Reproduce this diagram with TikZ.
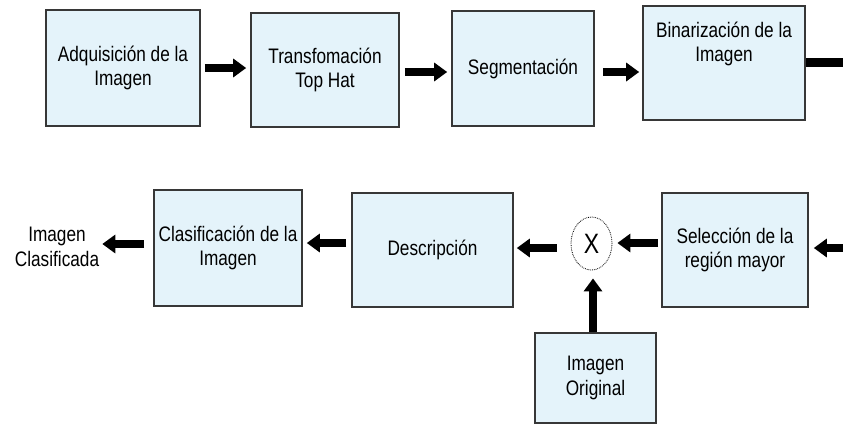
\documentclass[tikz,border=0pt]{standalone}
\usepackage{fontspec}
\setmainfont[FakeStretch=0.82]{Liberation Sans}
\usetikzlibrary{arrows.meta,shapes.geometric}
\definecolor{boxfill}{RGB}{228,243,250}
\definecolor{boxline}{RGB}{55,55,55}

\begin{document}
\begin{tikzpicture}[x=1pt, y=-1pt,
    blockbox/.style={draw=boxline, line width=1.6pt, fill=boxfill, align=center,
      inner sep=2pt, font=\fontsize{21}{24.5}\selectfont},
    boxtext/.style={align=center, inner sep=3pt, font=\fontsize{21}{24.5}\selectfont},
    flow/.style={line width=8pt, -{Triangle[width=18pt,length=13pt]}}]
    \useasboundingbox (0,0) rectangle (843,424);
    \def\ya{68}; \def\yb{72}; \def\yc{62}; \def\yd{248}; \def\ye{243};

    % first row
    \node[blockbox, minimum width=154pt, minimum height=116pt] (adq) at (123,68) {Adquisición de la\\Imagen};
    \node[blockbox, minimum width=148pt, minimum height=114pt] (top) at (325,70) {Transfomación\\Top Hat};
    \node[blockbox, minimum width=142pt, minimum height=115pt] (seg) at (523,68.5) {Segmentación};
    \node[blockbox, minimum width=162pt, minimum height=114pt] (bin) at (724,63) {};
    \node[boxtext] (binlbl) at ([yshift=19pt]bin.center) {Binarización de la\\Imagen};

    % second row
    \node[boxtext] (outlbl) at (57,247) {Imagen\\Clasificada};
    \node[blockbox, minimum width=148pt, minimum height=116pt] (clas) at (228,248) {Clasificación de la\\Imagen};
    \node[blockbox, minimum width=161pt, minimum height=114pt] (desc) at (432.5,250) {Descripción};
    \node[ellipse, draw, densely dotted, line width=0.8pt, fill=white, minimum width=41pt,
      minimum height=53pt, inner sep=0pt, font=\fontsize{28}{28}\selectfont] (mult) at (591.5,243.5) {X};
    \node[blockbox, minimum width=146pt, minimum height=114pt] (sel) at (735,250) {Selección de la\\región mayor};
    \node[blockbox, minimum width=121pt, minimum height=90pt] (orig) at (595.5,378) {Imagen\\Original};

    \coordinate (outR) at (843,\yc); \coordinate (inR) at (843,\yd);

    % connectors
    \draw[flow, shorten <=4pt, shorten >=4pt] (adq.east |- 0,\ya) -- (top.west |- 0,\ya);
    \draw[flow, shorten <=5pt, shorten >=4pt] (top.east |- 0,\yb) -- (seg.west |- 0,\yb);
    \draw[flow, shorten <=8pt, shorten >=3pt] (seg.east |- 0,\yb) -- (bin.west |- 0,\yb);
    \draw[line width=9pt] (bin.east |- outR) -- (outR);

    \draw[flow, shorten >=5pt] (inR) -- (sel.east |- inR);
    \draw[flow, shorten <=3pt, shorten >=5pt] (sel.west |- 0,\ye) -- (mult.east |- 0,\ye);
    \draw[flow, shorten <=14pt, shorten >=3pt] (mult.west |- 0,\yd) -- (desc.east |- 0,\yd);
    \draw[flow, shorten <=5pt, shorten >=4pt] (desc.west |- 0,\ye) -- (clas.east |- 0,\ye);
    \draw[flow, shorten <=9pt] (clas.west |- 0,244) -- (outlbl.east |- 0,244);
    \draw[flow, shorten >=8pt] (orig.north -| 593,0) -- (mult.south -| 593,0);
\end{tikzpicture}
\end{document}
